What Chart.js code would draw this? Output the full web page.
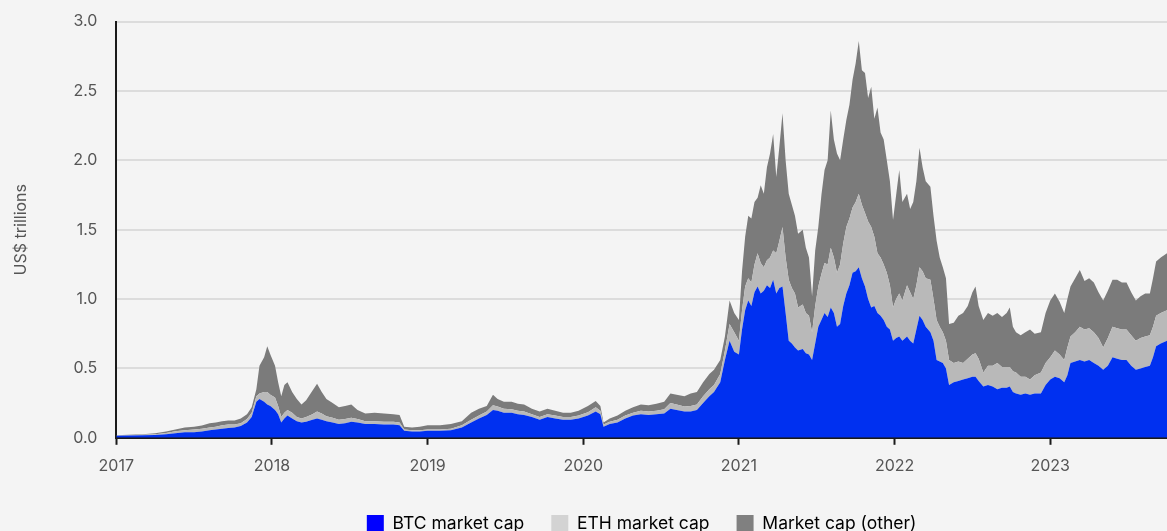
<!DOCTYPE html>
<html>
<head>
<meta charset="utf-8">
<script src="https://cdn.jsdelivr.net/npm/chart.js@4"></script>
<style>
html, body { margin: 0; padding: 0; background: #f4f4f4; overflow: hidden; }
#wrap { width: 1167px; height: 550px; position: relative; margin-top: -7px; }
</style>
</head>
<body>
<div id="wrap"><canvas id="myChart"></canvas></div>
<script>
// decimal years, US$ trillions
const dates = [
  2017.00,2017.08,2017.17,2017.25,2017.32,2017.38,2017.44,2017.50,2017.55,2017.60,2017.64,2017.68,2017.72,2017.76,2017.80,2017.84,2017.87,2017.90,2017.92,2017.95,2017.97,2017.99,
  2018.02,2018.04,2018.06,2018.08,2018.10,2018.13,2018.16,2018.19,2018.22,2018.26,2018.29,2018.32,2018.35,2018.39,2018.43,2018.47,2018.51,2018.55,2018.60,2018.66,2018.72,2018.78,2018.82,2018.85,2018.90,2018.95,
  2019.00,2019.08,2019.15,2019.22,2019.28,2019.33,2019.38,2019.42,2019.45,2019.49,2019.54,2019.58,2019.62,2019.67,2019.72,2019.77,2019.82,2019.87,2019.92,2019.97,
  2020.03,2020.08,2020.11,2020.13,2020.17,2020.22,2020.27,2020.32,2020.37,2020.42,2020.47,2020.52,2020.56,2020.60,2020.65,2020.69,2020.73,2020.77,2020.81,2020.84,2020.88,2020.91,2020.94,2020.97,
  2021.00,2021.02,2021.04,2021.06,2021.08,2021.10,2021.12,2021.14,2021.16,2021.18,2021.20,2021.22,2021.24,2021.26,2021.28,2021.30,2021.32,2021.34,2021.36,2021.38,2021.41,2021.43,2021.45,2021.47,2021.49,
  2021.51,2021.53,2021.55,2021.57,2021.59,2021.61,2021.63,2021.65,2021.67,2021.69,2021.71,2021.73,2021.75,2021.77,2021.79,2021.81,2021.83,2021.85,2021.87,2021.89,2021.91,2021.93,2021.95,2021.97,2021.99,
  2022.01,2022.03,2022.05,2022.08,2022.10,2022.12,2022.14,2022.16,2022.18,2022.20,2022.23,2022.25,2022.27,2022.29,2022.31,2022.33,2022.35,2022.38,2022.41,2022.44,
  2022.47,2022.50,2022.52,2022.54,2022.57,2022.60,2022.63,2022.66,2022.69,2022.72,2022.74,2022.76,2022.78,2022.81,2022.84,2022.87,2022.90,2022.94,2022.97,
  2023.00,2023.03,2023.06,2023.09,2023.11,2023.13,2023.16,2023.19,2023.22,2023.25,2023.28,2023.31,2023.34,2023.37,2023.40,2023.43,2023.46,2023.49,2023.52,2023.55,2023.58,2023.61,2023.64,2023.66,2023.68,2023.71,2023.75
]
const btc = [
  .015,.017,.018,.020,.025,.033,.040,.040,.045,.055,.060,.065,.070,.075,.085,.110,.150,.260,.280,.260,.240,.230,
  .200,.170,.110,.140,.160,.140,.120,.110,.115,.130,.140,.130,.120,.110,.100,.105,.115,.110,.100,.100,.095,.095,.090,.050,.045,.045,
  .050,.050,.055,.075,.110,.140,.165,.200,.195,.180,.180,.170,.165,.150,.130,.150,.140,.130,.130,.140,
  .160,.190,.170,.080,.100,.110,.140,.160,.170,.165,.170,.175,.210,.200,.190,.190,.200,.250,.300,.330,.400,.560,.700,.620,
  .600,.780,.920,.990,.950,1.050,1.090,1.040,1.060,1.100,1.080,1.140,1.040,1.080,1.090,.900,.700,.680,.650,.630,.640,.610,.600,.560,.680,
  .800,.850,.900,.870,.940,.900,.800,.820,.950,1.040,1.100,1.190,1.200,1.230,1.150,1.090,1.000,.940,.950,.900,.880,.850,.800,.780,.700,
  .720,.730,.700,.730,.700,.680,.780,.880,.850,.800,.760,.700,.560,.550,.540,.500,.380,.400,.410,.420,
  .430,.440,.440,.410,.370,.380,.370,.350,.360,.360,.370,.330,.320,.310,.320,.310,.320,.320,.380,
  .420,.440,.430,.400,.450,.540,.550,.560,.550,.560,.540,.520,.490,.520,.580,.570,.560,.560,.520,.490,.500,.510,.520,.580,.660,.680,.700
]
const eth = [
  .002,.002,.004,.006,.010,.015,.015,.020,.020,.020,.020,.025,.025,.020,.020,.025,.030,.040,.040,.070,.090,.080,
  .090,.060,.040,.040,.040,.040,.030,.030,.035,.040,.050,.045,.035,.035,.030,.030,.030,.025,.020,.020,.020,.020,.020,.010,.010,.010,
  .010,.010,.010,.015,.020,.020,.025,.035,.030,.030,.025,.025,.025,.020,.020,.020,.020,.020,.020,.020,
  .025,.030,.025,.015,.015,.020,.020,.020,.025,.025,.025,.030,.040,.040,.035,.040,.040,.050,.050,.050,.060,.070,.120,.140,
  .100,.140,.170,.160,.170,.200,.240,.220,.170,.180,.220,.210,.290,.340,.430,.400,.440,.400,.390,.310,.320,.290,.280,.200,.270,
  .290,.330,.360,.380,.430,.400,.390,.430,.450,.480,.480,.470,.500,.530,.530,.530,.560,.580,.500,.430,.420,.400,.390,.320,.240,
  .280,.310,.290,.370,.350,.320,.320,.350,.350,.350,.380,.300,.290,.250,.220,.200,.180,.140,.140,.120,
  .140,.160,.170,.160,.100,.140,.150,.190,.150,.150,.140,.150,.150,.130,.120,.110,.130,.150,.160,
  .160,.190,.170,.160,.200,.190,.210,.240,.230,.230,.220,.200,.160,.200,.220,.220,.220,.220,.220,.210,.220,.220,.220,.220,.220,.220,.220
]
const other = [
  .002,.003,.004,.006,.010,.012,.020,.020,.023,.030,.030,.030,.030,.030,.035,.035,.040,.050,.200,.250,.330,.290,
  .230,.170,.150,.200,.200,.150,.130,.100,.120,.170,.200,.155,.125,.105,.090,.095,.095,.065,.055,.060,.060,.055,.055,.020,.020,.025,
  .030,.030,.035,.030,.050,.050,.040,.075,.055,.050,.055,.050,.050,.040,.040,.040,.035,.030,.030,.035,
  .045,.045,.035,.015,.025,.030,.035,.040,.045,.045,.050,.055,.070,.070,.075,.090,.090,.100,.110,.110,.100,.100,.170,.140,
  .150,.280,.360,.450,.460,.450,.400,.560,.530,.670,.750,.840,.550,.680,.820,.700,.620,.600,.560,.530,.540,.470,.420,.260,.400,
  .430,.570,.670,.750,.990,.850,.860,.750,.750,.770,.820,.920,1.000,1.100,.970,1.010,.890,1.010,.850,1.050,.900,.900,.810,.750,.630,
  .750,.890,.710,.660,.600,.700,.750,.860,.750,.700,.670,.600,.570,.500,.470,.450,.260,.290,.330,.360,
  .380,.450,.480,.380,.380,.380,.360,.360,.360,.390,.430,.320,.290,.300,.320,.360,.300,.290,.360,
  .410,.410,.380,.340,.350,.360,.390,.410,.350,.360,.360,.330,.340,.340,.340,.350,.340,.340,.310,.290,.300,.310,.300,.350,.390,.400,.410
]

const seriesNames = ['BTC market cap', 'ETH market cap', 'Market cap (other)']
const areaColors = ['#0030f0', '#b9b9b9', '#7b7b7b']
const legendColors = ['#0000ff', '#d3d3d3', '#808080']
const yTicks = [0, 0.5, 1.0, 1.5, 2.0, 2.5, 3.0]

const toPoints = (vals) => vals.map((v, i) => ({x: dates[i], y: v}))

const bg = {
  id: 'bg',
  beforeDraw(chart) {
    const c = chart.ctx
    c.save()
    c.fillStyle = '#f4f4f4'
    c.fillRect(0, 0, chart.width, chart.height)
    c.restore()
  }
}

const ctx = document.getElementById('myChart').getContext('2d')
const myChart = new Chart(ctx, {
  type: 'line',
  data: {
    datasets: [btc, eth, other].map((vals, i) => ({
      label: seriesNames[i],
      data: toPoints(vals),
      backgroundColor: areaColors[i],
      borderColor: areaColors[i],
      borderWidth: 0,
      pointRadius: 0,
      tension: 0,
      fill: i === 0 ? 'origin' : '-1'
    }))
  },
  options: {
    responsive: true,
    maintainAspectRatio: false,
    animation: false,
    layout: { padding: { top: 5, left: 8, right: 0, bottom: 0 } },
    plugins: {
      tooltip: { enabled: false },
      legend: {
        position: 'bottom',
        fullSize: false,
        labels: {
          boxWidth: 17,
          boxHeight: 18,
          padding: 27,
          color: '#555',
          font: { family: 'Inter', size: 17.5 },
          generateLabels: (chart) => seriesNames.map((n, i) => ({
            text: n,
            fillStyle: legendColors[i],
            strokeStyle: legendColors[i],
            lineWidth: 0,
            datasetIndex: i
          }))
        }
      }
    },
    scales: {
      x: {
        type: 'linear',
        min: 2017,
        max: 2023.75,
        border: { color: '#1a1a1a', width: 2 },
        grid: { drawOnChartArea: false, drawTicks: true, tickLength: 7, tickColor: '#1a1a1a', tickWidth: 2 },
        ticks: {
          stepSize: 1,
          includeBounds: false,
          padding: 12,
          color: '#555',
          font: { family: 'Inter', size: 16 },
          callback: (v) => Number.isInteger(v) ? String(v) : ''
        }
      },
      y: {
        stacked: true,
        min: 0,
        max: 3,
        border: { color: '#1a1a1a', width: 2 },
        grid: { color: '#dcdcdc', lineWidth: 2, drawTicks: false },
        afterBuildTicks: (scale) => { scale.ticks = yTicks.map((v) => ({value: v})) },
        ticks: {
          padding: 19,
          color: '#555',
          font: { family: 'Inter', size: 16 },
          callback: (v) => v.toFixed(1)
        },
        title: {
          display: true,
          text: 'US$ trillions',
          color: '#555',
          font: { family: 'Inter', size: 16 },
          padding: { top: 4, bottom: 23 }
        }
      }
    }
  },
  plugins: [bg]
})
</script>
</body>
</html>
